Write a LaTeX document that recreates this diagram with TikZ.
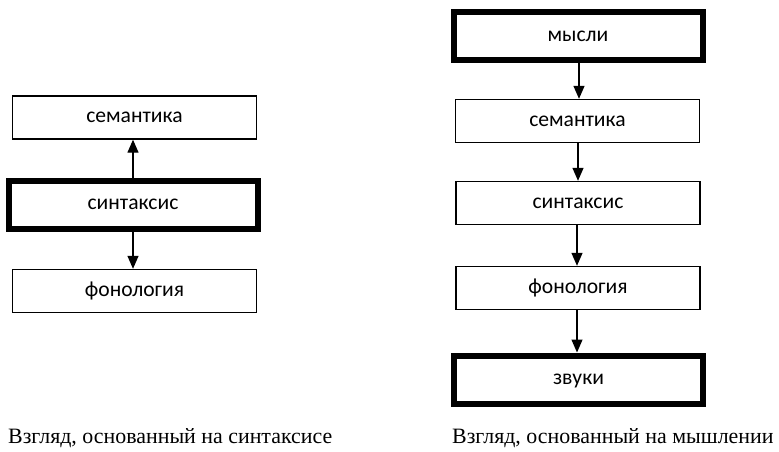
\documentclass[tikz,border=0pt]{standalone}
\usepackage{fontspec}
\setmainfont{Liberation Serif}
\newfontfamily\boxfont{Carlito}
\usetikzlibrary{arrows.meta}
\tikzset{
  boxtext/.style={inner sep=0pt, text height=10pt, text depth=0pt, font=\boxfont\fontsize{21.6}{26}\selectfont},
  thinbox/.style={boxtext, draw, line width=1.4pt, minimum width=244pt, minimum height=43pt},
  thickbox/.style={boxtext, draw, line width=6pt, minimum width=249pt, minimum height=48pt},
  conn/.style={line width=1.3pt, -{Triangle[width=11pt,length=13pt]}},
  caption/.style={anchor=base west, inner sep=0pt, font=\fontsize{21.9}{26}\selectfont}
}
\begin{document}
\begin{tikzpicture}[x=1pt,y=-1pt]
\useasboundingbox (0,0) rectangle (779,452);
% left
\node[thinbox] (lsem) at (134.5,117.5) {семантика};
\node[thickbox] (lsyn) at (133,204.5) {синтаксис};
\node[thinbox] (lfon) at (134.5,291) {фонология};
\draw[conn] (lsyn.north -| 133,0) -- (lsem.south -| 133,0);
\draw[conn] (lsyn.south -| 133,0) -- (lfon.north -| 133,0);
% right
\node[thickbox] (rmys) at (578,36.5) {мысли};
\node[thinbox] (rsem) at (577.5,121) {семантика};
\node[thinbox] (rsyn) at (578,203) {синтаксис};
\node[thinbox] (rfon) at (578,288) {фонология};
\node[thickbox] (rzvu) at (578.5,379.5) {звуки};
\draw[conn] (rmys.south -| 579,0) -- (rsem.north -| 579,0);
\draw[conn] (rsem.south -| 578,0) -- (rsyn.north -| 578,0);
\draw[conn] (rsyn.south -| 577,0) -- (rfon.north -| 577,0);
\draw[conn] (rfon.south -| 577,0) -- (rzvu.north -| 577,0);
% captions
\node[caption] (lcap) at (8,443) {Взгляд, основанный на синтаксисе};
\node[caption] (rcap) at (452,443) {Взгляд, основанный на мышлении};
\end{tikzpicture}
\end{document}
